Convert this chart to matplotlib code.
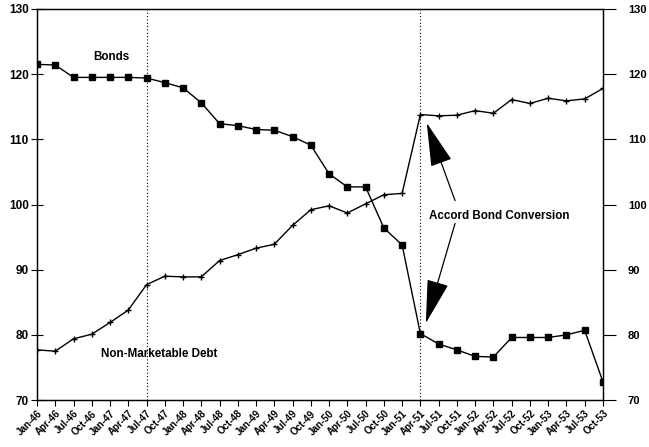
import matplotlib
matplotlib.use("Agg")
import matplotlib.pyplot as plt

plt.rcParams['font.family'] = ['Liberation Sans', 'DejaVu Sans']

quarters = ["Jan-46", "Apr-46", "Jul-46", "Oct-46", "Jan-47", "Apr-47", "Jul-47", "Oct-47",
            "Jan-48", "Apr-48", "Jul-48", "Oct-48", "Jan-49", "Apr-49", "Jul-49", "Oct-49",
            "Jan-50", "Apr-50", "Jul-50", "Oct-50", "Jan-51", "Apr-51", "Jul-51", "Oct-51",
            "Jan-52", "Apr-52", "Jul-52", "Oct-52", "Jan-53", "Apr-53", "Jul-53", "Oct-53"]

bonds = [121.5, 121.4, 119.5, 119.5, 119.5, 119.5, 119.4, 118.7,
         117.9, 115.6, 112.4, 112.1, 111.5, 111.4, 110.4, 109.1,
         104.7, 102.7, 102.7, 96.4, 93.8, 80.2, 78.6, 77.7,
         76.7, 76.6, 79.6, 79.6, 79.6, 80.0, 80.7, 72.8]

non_marketable = [77.7, 77.5, 79.4, 80.1, 81.9, 83.8, 87.7, 89.0,
                  88.9, 88.9, 91.4, 92.3, 93.3, 93.9, 96.8, 99.2,
                  99.8, 98.7, 100.1, 101.5, 101.7, 113.8, 113.6, 113.7,
                  114.4, 114.0, 116.1, 115.5, 116.3, 115.9, 116.2, 117.8]

event_idx = [6, 21]

fig = plt.figure(figsize=(6.49, 4.47), dpi=100)
ax = fig.add_axes([0.057, 0.105, 0.872, 0.875])
x = list(range(len(quarters)))

ax.plot(x, bonds, color="black", lw=1.0, marker="s", markersize=5)
ax.plot(x, non_marketable, color="black", lw=1.0, marker="+", markersize=4, mew=1.0)

for i in event_idx:
    ax.axvline(i, color="black", lw=0.8, ls=(0, (1, 2)))

ax.set_xlim(0, len(quarters) - 1)
ax.set_ylim(70, 130)
ax.set_yticks(range(70, 131, 10))
ax.set_xticks(x)
ax.set_xticklabels(quarters, rotation=45, ha="right", rotation_mode="anchor",
                   fontsize=7, fontweight="bold")
ax.tick_params(axis="x", direction="out", length=4, width=0.8, pad=2)
ax.tick_params(axis="y", direction="inout", length=8, width=0.8, labelsize=8.5, pad=2)
for lab in ax.get_yticklabels():
    lab.set_fontweight("bold")

ax2 = ax.twinx()
ax2.set_ylim(70, 130)
ax2.set_yticks(range(70, 131, 10))
ax2.tick_params(axis="y", direction="out", length=9, width=0.8, labelsize=8, pad=9)
for lab in ax2.get_yticklabels():
    lab.set_fontweight("bold")

for a in (ax, ax2):
    for s in a.spines.values():
        s.set_linewidth(0.9)

ax.text(4.1, 122.6, "Bonds", fontsize=8.4, fontweight="bold", ha="center", va="center")
ax.text(6.7, 77.1, "Non-Marketable Debt", fontsize=8.4, fontweight="bold", ha="center", va="center")
ax.text(25.3, 98.2, "Accord Bond Conversion", fontsize=8.4, fontweight="bold", ha="center", va="center")

arrow_style = dict(arrowstyle="-|>,head_length=2.8,head_width=0.7", color="black", lw=0.9,
                   shrinkA=0, shrinkB=0)
ax.annotate("", xy=(21.35, 112.5), xytext=(22.9, 100.6), arrowprops=arrow_style)
ax.annotate("", xy=(21.3, 81.8), xytext=(22.9, 97.1), arrowprops=arrow_style)

fig.savefig("out.png", dpi=100)
